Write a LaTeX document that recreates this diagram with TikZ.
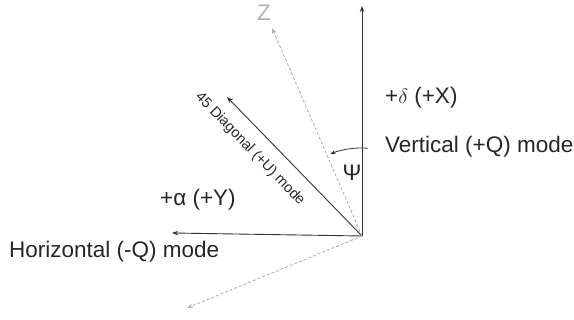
\documentclass[tikz,border=0pt]{standalone}
\usepackage{fontspec}
\setmainfont{Liberation Sans}
\usetikzlibrary{arrows.meta}
\begin{document}
\begin{tikzpicture}[x=1pt,y=1pt,
  axis/.style={draw=black!80, line width=0.9pt, -{Stealth[length=6pt,width=4.5pt]}},
  ghost/.style={draw=black!30, line width=0.9pt, dash pattern=on 3pt off 2pt, -{Stealth[length=6pt,width=4.5pt]}},
  lab/.style={font=\fontsize{22.5}{24}\selectfont, text=black!85, inner sep=0pt}]
\useasboundingbox (0,0) rectangle (574,320);
\coordinate (O) at (362,84);
\coordinate (V) at (362,314);
\coordinate (H) at (172,87);
\coordinate (D) at (227,223);
\coordinate (Zt) at (272,292);
\coordinate (L) at (187,12);
\draw[axis] (O) -- (V);
\draw[axis] (O) -- (H);
\draw[axis] (O) -- (D);
\draw[ghost] (O) -- (Zt);
\draw[ghost] (O) -- (L);
\draw[black!80, line width=0.8pt, -{Stealth[length=5pt,width=4pt]}] (O) ++(86:88) arc[start angle=86, end angle=111, radius=88];
\node[lab, text=black!30, anchor=center] (zl) at (264,307) {Z};
\node[lab, anchor=west] (dx) at (385,222) {+$\delta$ (+X)};
\node[lab, anchor=west] (vq) at (385,173) {Vertical (+Q) mode};
\node[lab, anchor=west] (ay) at (160,120) {+α (+Y)};
\node[lab, anchor=west] (hq) at (9,68) {Horizontal (-Q) mode};
\node[lab, anchor=center] (psi) at (352,147) {Ψ};
\node[font=\fontsize{14.5}{16}\selectfont, text=black!85, inner sep=0pt, rotate=-46] (du) at (250,171) {45 Diagonal (+U) mode};
\end{tikzpicture}
\end{document}
